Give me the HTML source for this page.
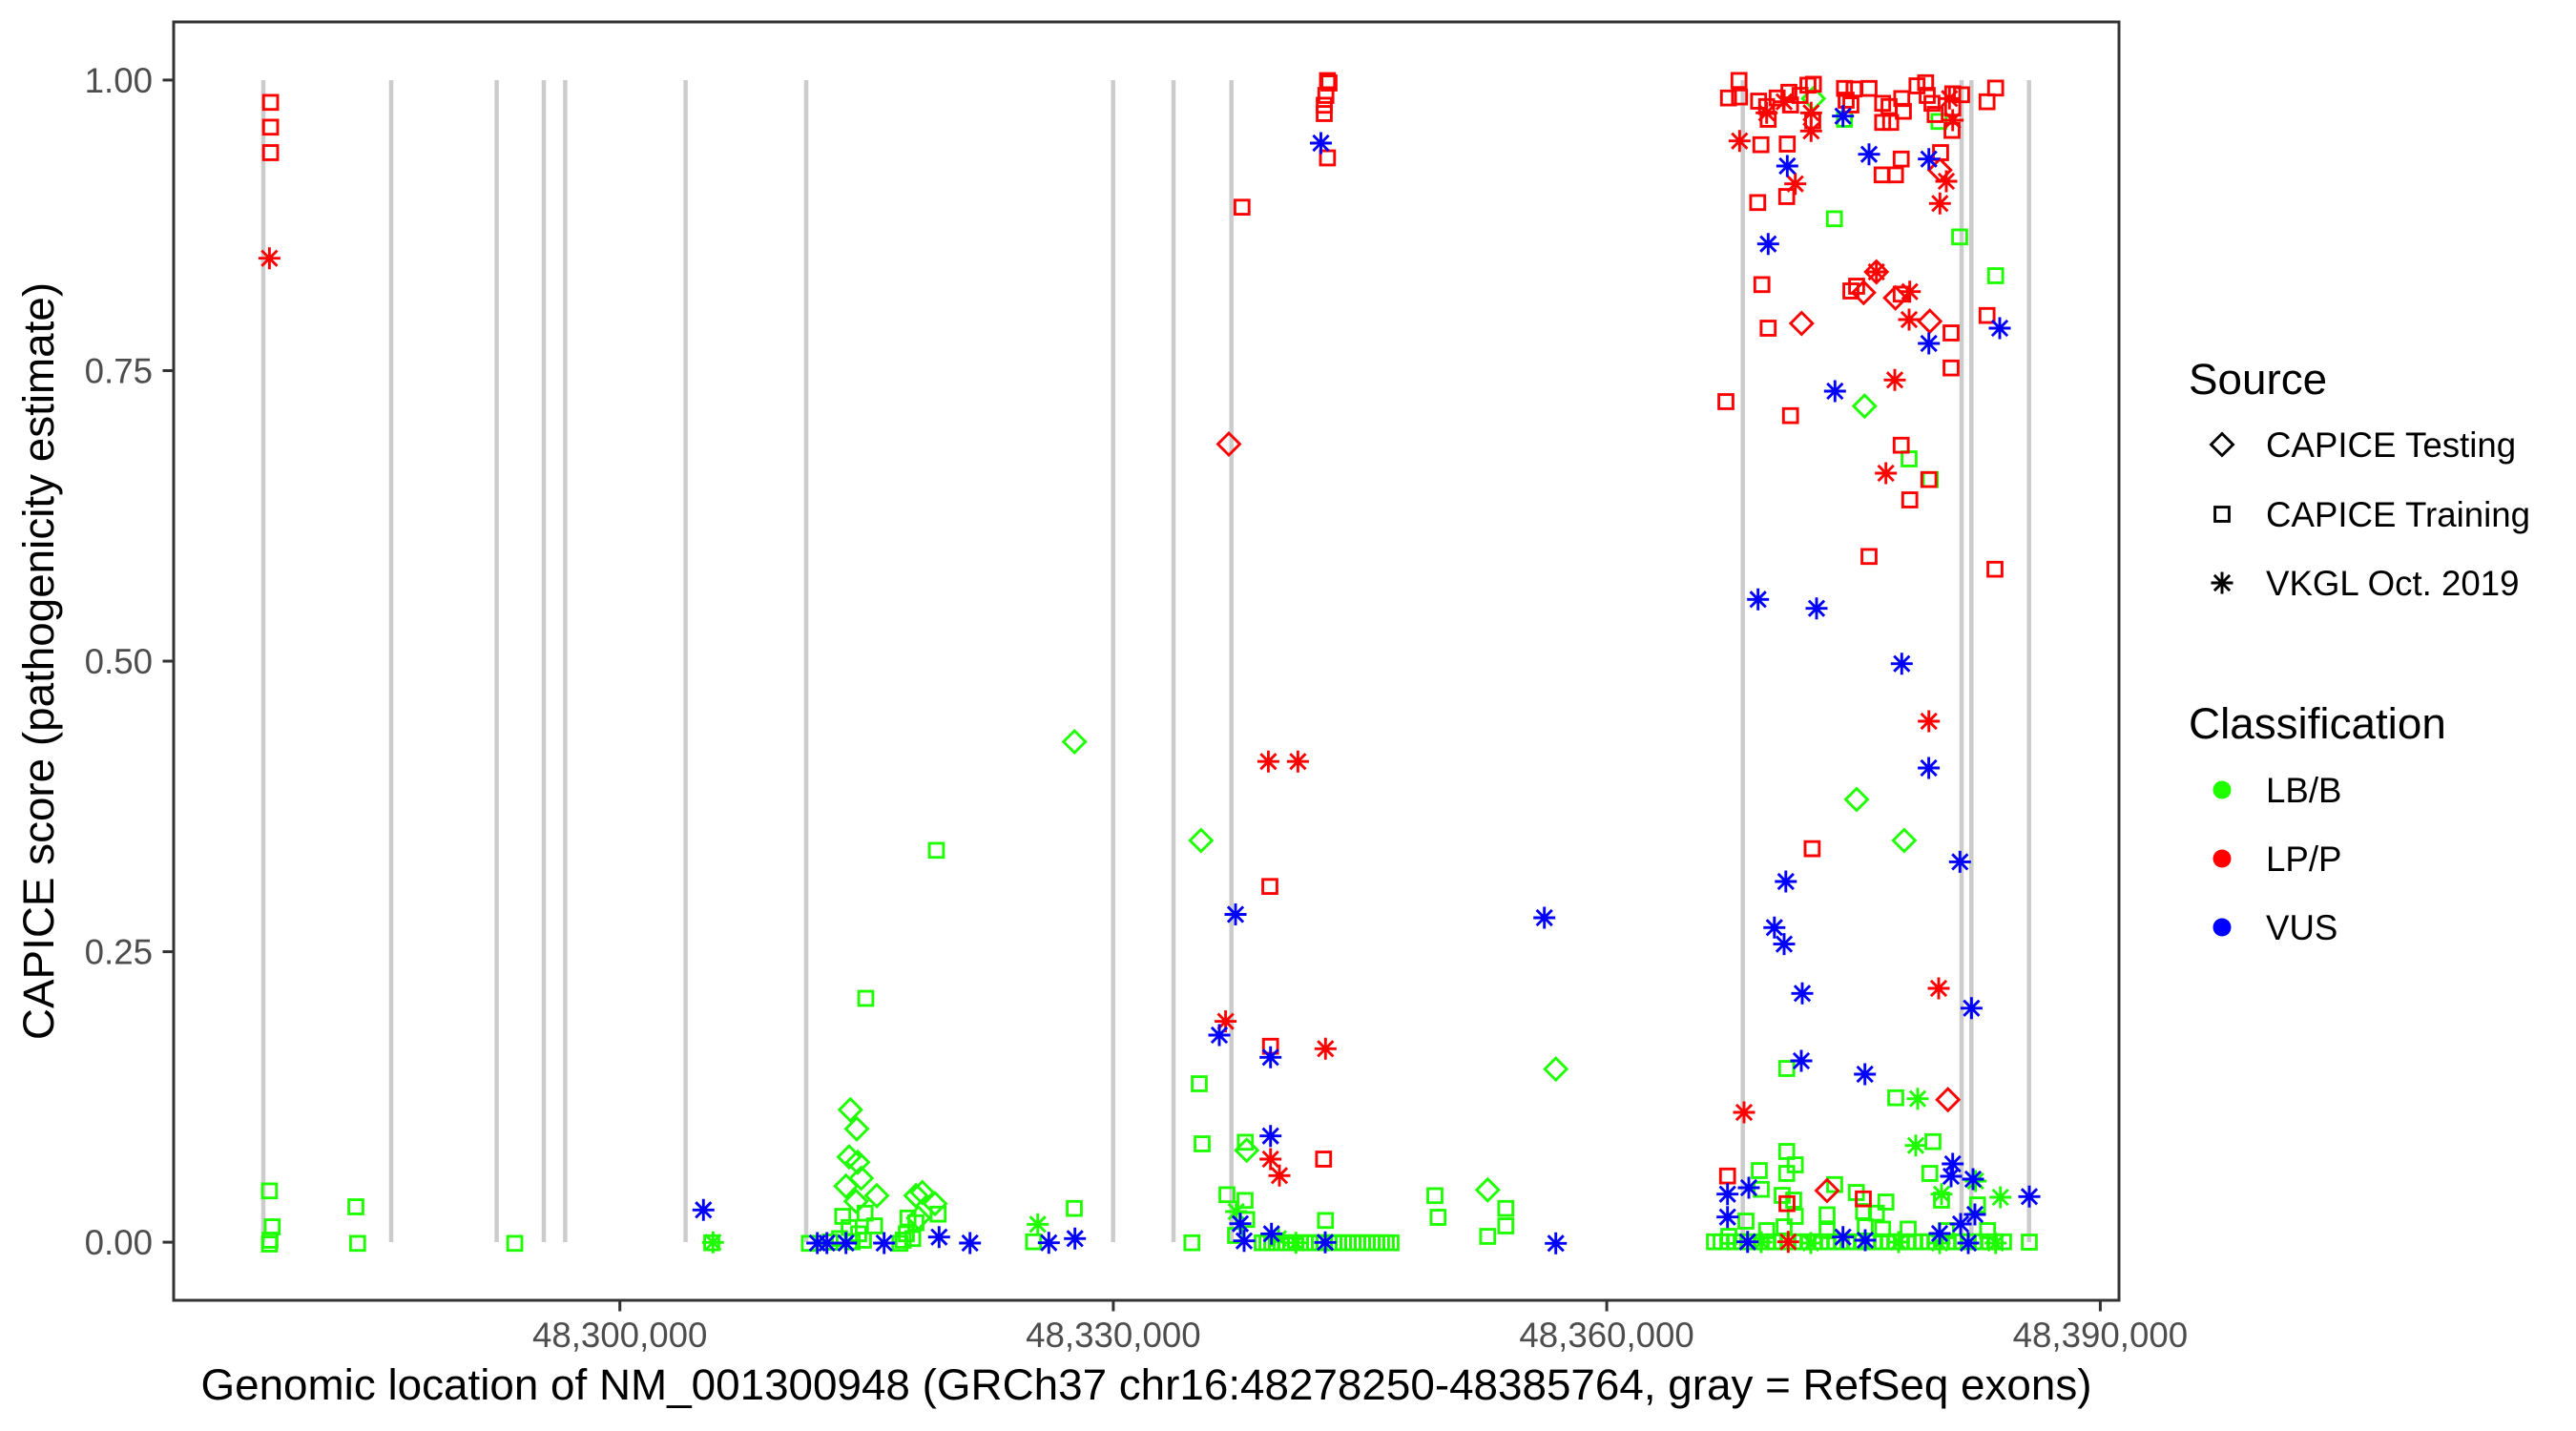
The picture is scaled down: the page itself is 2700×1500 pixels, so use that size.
<!DOCTYPE html>
<html><head><meta charset="utf-8"><style>
html,body{margin:0;padding:0;background:#fff}
svg{display:block}
text{font-family:"Liberation Sans",Arial,sans-serif}
</style></head><body>
<svg width="2700" height="1500" viewBox="0 0 2700 1500" xmlns="http://www.w3.org/2000/svg">
<defs>
<path id="q" d="M-7.4,-7.4h14.8v14.8h-14.8z" fill="none"/>
<path id="d" d="M0,-11.5L11.5,0L0,11.5L-11.5,0z" fill="none"/>
<path id="a" d="M-11.5,0H11.5M0,-11.5V11.5M-8.1,-8.1L8.1,8.1M-8.1,8.1L8.1,-8.1" fill="none"/>
</defs>
<rect width="2700" height="1500" fill="#fff"/>
<g stroke="#cccccc" stroke-width="4.5">
<line x1="276" y1="84" x2="276" y2="1302"/>
<line x1="410" y1="84" x2="410" y2="1302"/>
<line x1="520.6" y1="84" x2="520.6" y2="1302"/>
<line x1="570" y1="84" x2="570" y2="1302"/>
<line x1="592.4" y1="84" x2="592.4" y2="1302"/>
<line x1="718.6" y1="84" x2="718.6" y2="1302"/>
<line x1="845" y1="84" x2="845" y2="1302"/>
<line x1="1166.7" y1="84" x2="1166.7" y2="1302"/>
<line x1="1230" y1="84" x2="1230" y2="1302"/>
<line x1="1290.7" y1="84" x2="1290.7" y2="1302"/>
<line x1="1826.7" y1="84" x2="1826.7" y2="1302"/>
<line x1="2056" y1="84" x2="2056" y2="1302"/>
<line x1="2066.3" y1="84" x2="2066.3" y2="1302"/>
<line x1="2126.7" y1="84" x2="2126.7" y2="1302"/>
</g>
<g stroke="#1eff00" stroke-width="2.9" fill="none">
<use href="#q" x="282.4" y="1248.3"/><use href="#q" x="285.3" y="1286"/><use href="#q" x="283" y="1300"/><use href="#q" x="282.4" y="1304"/>
<use href="#q" x="373" y="1265"/><use href="#q" x="374.8" y="1303.3"/><use href="#q" x="539.6" y="1303.3"/><use href="#q" x="746" y="1302.7"/><use href="#q" x="848.3" y="1303.3"/>
<use href="#q" x="883.3" y="1275"/><use href="#q" x="906.7" y="1271.7"/><use href="#q" x="916.7" y="1285"/><use href="#q" x="890" y="1286.7"/><use href="#q" x="900" y="1293.3"/><use href="#q" x="880" y="1298.3"/><use href="#q" x="893.3" y="1301.7"/><use href="#q" x="905" y="1300"/><use href="#q" x="870" y="1302"/>
<use href="#q" x="951.7" y="1276.7"/><use href="#q" x="960" y="1281.7"/><use href="#q" x="983.3" y="1272.7"/><use href="#q" x="950" y="1293.3"/><use href="#q" x="956.7" y="1298.3"/><use href="#q" x="946.7" y="1300"/><use href="#q" x="943.3" y="1303.3"/>
<use href="#q" x="1083.3" y="1301.7"/><use href="#q" x="1126" y="1266.7"/><use href="#q" x="907.5" y="1046.5"/><use href="#q" x="981.5" y="891.3"/>
<use href="#q" x="1257" y="1136"/><use href="#q" x="1260" y="1199"/><use href="#q" x="1305.3" y="1197.3"/><use href="#q" x="1286" y="1252.3"/><use href="#q" x="1305" y="1258.3"/><use href="#q" x="1306.7" y="1278.3"/><use href="#q" x="1295" y="1295"/><use href="#q" x="1249.3" y="1302.7"/><use href="#q" x="1389.3" y="1279.3"/>
<use href="#q" x="1323" y="1302.7"/><use href="#q" x="1328" y="1302.7"/><use href="#q" x="1333" y="1302.7"/><use href="#q" x="1338" y="1302.7"/><use href="#q" x="1343" y="1302.7"/><use href="#q" x="1348" y="1302.7"/><use href="#q" x="1353" y="1302.7"/><use href="#q" x="1358" y="1302.7"/><use href="#q" x="1363" y="1302.7"/><use href="#q" x="1368" y="1302.7"/><use href="#q" x="1373" y="1302.7"/><use href="#q" x="1378" y="1302.7"/><use href="#q" x="1383" y="1302.7"/><use href="#q" x="1388" y="1302.7"/><use href="#q" x="1393" y="1302.7"/><use href="#q" x="1398" y="1302.7"/><use href="#q" x="1403" y="1302.7"/><use href="#q" x="1408" y="1302.7"/><use href="#q" x="1413" y="1302.7"/><use href="#q" x="1418" y="1302.7"/><use href="#q" x="1423" y="1302.7"/><use href="#q" x="1428" y="1302.7"/><use href="#q" x="1433" y="1302.7"/><use href="#q" x="1438" y="1302.7"/><use href="#q" x="1443" y="1302.7"/><use href="#q" x="1448" y="1302.7"/><use href="#q" x="1453" y="1302.7"/><use href="#q" x="1458" y="1302.7"/>
<use href="#q" x="1504" y="1253.3"/><use href="#q" x="1507.3" y="1276"/><use href="#q" x="1559.3" y="1296"/><use href="#q" x="1578.3" y="1266.7"/><use href="#q" x="1578.3" y="1285"/>
<use href="#q" x="1872.7" y="1120"/><use href="#q" x="1987" y="1150.7"/><use href="#q" x="2026" y="1196.7"/><use href="#q" x="1872.7" y="1207"/><use href="#q" x="1881.7" y="1221"/><use href="#q" x="1872.7" y="1230"/><use href="#q" x="1844" y="1227"/><use href="#q" x="1846" y="1246.7"/><use href="#q" x="2022.7" y="1230"/><use href="#q" x="1923" y="1241.7"/><use href="#q" x="1945.7" y="1250"/><use href="#q" x="1976.7" y="1260"/><use href="#q" x="1868" y="1253"/><use href="#q" x="1880" y="1258"/><use href="#q" x="2035" y="1258"/><use href="#q" x="2072.7" y="1263"/>
<use href="#q" x="1830" y="1280"/><use href="#q" x="1851.7" y="1290"/><use href="#q" x="1915" y="1273.3"/><use href="#q" x="1953.3" y="1270"/><use href="#q" x="1966.7" y="1271.7"/><use href="#q" x="1881.7" y="1275"/><use href="#q" x="2000" y="1288.3"/><use href="#q" x="2083.3" y="1290"/><use href="#q" x="1973.3" y="1288.3"/><use href="#q" x="1870" y="1286"/><use href="#q" x="1812" y="1296"/><use href="#q" x="1955" y="1286"/><use href="#q" x="1915" y="1290"/><use href="#q" x="2040" y="1290"/>
<use href="#q" x="1797" y="1301.7"/><use href="#q" x="1804" y="1301.7"/><use href="#q" x="1811" y="1301.7"/><use href="#q" x="1818" y="1301.7"/><use href="#q" x="1825" y="1301.7"/><use href="#q" x="1832" y="1301.7"/><use href="#q" x="1839" y="1301.7"/><use href="#q" x="1846" y="1301.7"/><use href="#q" x="1853" y="1301.7"/><use href="#q" x="1860" y="1301.7"/><use href="#q" x="1867" y="1301.7"/><use href="#q" x="1874" y="1301.7"/><use href="#q" x="1881" y="1301.7"/><use href="#q" x="1888" y="1301.7"/><use href="#q" x="1895" y="1301.7"/><use href="#q" x="1902" y="1301.7"/><use href="#q" x="1909" y="1301.7"/><use href="#q" x="1916" y="1301.7"/><use href="#q" x="1923" y="1301.7"/><use href="#q" x="1930" y="1301.7"/><use href="#q" x="1937" y="1301.7"/><use href="#q" x="1944" y="1301.7"/><use href="#q" x="1951" y="1301.7"/><use href="#q" x="1958" y="1301.7"/><use href="#q" x="1965" y="1301.7"/><use href="#q" x="1972" y="1301.7"/><use href="#q" x="1979" y="1301.7"/><use href="#q" x="1986" y="1301.7"/><use href="#q" x="1993" y="1301.7"/><use href="#q" x="2000" y="1301.7"/><use href="#q" x="2007" y="1301.7"/><use href="#q" x="2014" y="1301.7"/><use href="#q" x="2021" y="1301.7"/><use href="#q" x="2028" y="1301.7"/><use href="#q" x="2035" y="1301.7"/><use href="#q" x="2042" y="1301.7"/><use href="#q" x="2049" y="1301.7"/><use href="#q" x="2056" y="1301.7"/><use href="#q" x="2063" y="1301.7"/><use href="#q" x="2070" y="1301.7"/><use href="#q" x="2077" y="1301.7"/><use href="#q" x="2084" y="1301.7"/><use href="#q" x="2091" y="1301.7"/><use href="#q" x="2100" y="1301.7"/>
<use href="#q" x="2127" y="1302"/>
<use href="#q" x="2001" y="481"/><use href="#q" x="2023.3" y="502.7"/><use href="#q" x="2091.7" y="289"/><use href="#q" x="2054" y="248.3"/><use href="#q" x="1922.7" y="229.3"/><use href="#q" x="2032.3" y="127.3"/><use href="#q" x="1933.3" y="125"/>
<use href="#d" x="1126.2" y="777.5"/><use href="#d" x="1258.8" y="881"/><use href="#d" x="891.3" y="1163.3"/><use href="#d" x="898" y="1183.3"/><use href="#d" x="890" y="1212.7"/><use href="#d" x="899" y="1218.3"/><use href="#d" x="902.7" y="1235"/><use href="#d" x="886.7" y="1243.3"/><use href="#d" x="897.3" y="1259.3"/><use href="#d" x="919" y="1253.3"/><use href="#d" x="960" y="1253.3"/><use href="#d" x="966.7" y="1250"/><use href="#d" x="980" y="1261.7"/><use href="#d" x="962.7" y="1276.7"/><use href="#d" x="1306.7" y="1205.7"/><use href="#d" x="1559.3" y="1247.3"/><use href="#d" x="1630.7" y="1120.6"/><use href="#d" x="1954.3" y="425.7"/><use href="#d" x="1946" y="838"/><use href="#d" x="1995.8" y="881"/><use href="#d" x="1900.7" y="103.3"/>
<use href="#a" x="747.3" y="1302.3"/><use href="#a" x="1087.7" y="1283.3"/><use href="#a" x="1295.7" y="1270"/><use href="#a" x="1340" y="1298.3"/><use href="#a" x="1358.3" y="1302.7"/><use href="#a" x="2010" y="1151.7"/><use href="#a" x="2008" y="1200.7"/><use href="#a" x="2070.7" y="1238"/><use href="#a" x="2035" y="1251.7"/><use href="#a" x="2096.7" y="1255"/><use href="#a" x="2033" y="1303"/><use href="#a" x="2091.7" y="1303"/><use href="#a" x="1898" y="1303"/><use href="#a" x="1990" y="1302"/><use href="#a" x="1846" y="1302"/>
</g>
<g stroke="#ff0000" stroke-width="2.9" fill="none">
<use href="#q" x="283.6" y="107.3"/><use href="#q" x="283.6" y="133.3"/><use href="#q" x="283.6" y="160"/>
<use href="#q" x="1391.4" y="84.5"/><use href="#q" x="1393" y="87"/><use href="#q" x="1389.7" y="100"/><use href="#q" x="1388" y="110.3"/><use href="#q" x="1388" y="119"/><use href="#q" x="1391.4" y="165.5"/><use href="#q" x="1301.8" y="217.2"/><use href="#q" x="1331" y="929.2"/><use href="#q" x="1331.7" y="1096.7"/><use href="#q" x="1387.3" y="1215"/>
<use href="#q" x="1822.7" y="84.3"/><use href="#q" x="1811.7" y="102.7"/><use href="#q" x="1823.3" y="101.7"/><use href="#q" x="1843.3" y="106"/><use href="#q" x="1853.3" y="125"/><use href="#q" x="1851.7" y="111.7"/><use href="#q" x="1862.7" y="102.7"/><use href="#q" x="1875" y="96.7"/><use href="#q" x="1876.7" y="110"/><use href="#q" x="1886.7" y="100"/><use href="#q" x="1895" y="89.3"/><use href="#q" x="1900.7" y="88.3"/><use href="#q" x="1900" y="126.7"/><use href="#q" x="1933.3" y="92.7"/><use href="#q" x="1943.3" y="93.3"/><use href="#q" x="1935" y="105"/><use href="#q" x="1940" y="110"/><use href="#q" x="1959" y="92.7"/><use href="#q" x="1973.3" y="108.3"/><use href="#q" x="1980" y="111.7"/><use href="#q" x="1973.3" y="128.3"/><use href="#q" x="1981.7" y="128.3"/><use href="#q" x="1993.3" y="103.3"/><use href="#q" x="1995" y="116.7"/><use href="#q" x="2009.3" y="90"/><use href="#q" x="2018.3" y="86.7"/><use href="#q" x="2020" y="100"/><use href="#q" x="2025" y="108.3"/><use href="#q" x="2028.3" y="120"/><use href="#q" x="2046.7" y="98.3"/><use href="#q" x="2046.7" y="113.3"/><use href="#q" x="2046" y="136.7"/><use href="#q" x="2056" y="99.3"/><use href="#q" x="2082.7" y="106.7"/><use href="#q" x="2091.7" y="92.3"/>
<use href="#q" x="1845.7" y="151.7"/><use href="#q" x="1873.3" y="151"/><use href="#q" x="1992.7" y="166.7"/><use href="#q" x="1972.7" y="183.3"/><use href="#q" x="1986.7" y="183.3"/><use href="#q" x="2034" y="160"/><use href="#q" x="1842.3" y="212.3"/><use href="#q" x="1872.7" y="206"/>
<use href="#q" x="1846.7" y="298.3"/><use href="#q" x="1853.3" y="344"/><use href="#q" x="1809" y="421"/><use href="#q" x="1876.7" y="435.7"/><use href="#q" x="1940" y="305"/><use href="#q" x="1946" y="300"/><use href="#q" x="1992.7" y="308.3"/><use href="#q" x="2045" y="349"/><use href="#q" x="2045" y="385.7"/><use href="#q" x="2082.7" y="330.7"/><use href="#q" x="1992.7" y="466.7"/><use href="#q" x="2021.7" y="502.7"/><use href="#q" x="2001.7" y="524"/><use href="#q" x="1959" y="583.3"/><use href="#q" x="2091" y="596.7"/><use href="#q" x="1899.4" y="889.6"/><use href="#q" x="1810.7" y="1232.7"/><use href="#q" x="1953" y="1256.7"/><use href="#q" x="1873" y="1261.7"/>
<use href="#d" x="1288" y="465.5"/><use href="#d" x="2033.3" y="178.3"/><use href="#d" x="1888.3" y="339"/><use href="#d" x="1953.3" y="306.7"/><use href="#d" x="1966.7" y="285"/><use href="#d" x="1986.7" y="312.3"/><use href="#d" x="2022.7" y="336.7"/><use href="#d" x="1915" y="1248"/><use href="#d" x="2041.7" y="1152.7"/>
<use href="#a" x="282.4" y="270.7"/><use href="#a" x="1284.6" y="1070.6"/><use href="#a" x="1329.4" y="798.2"/><use href="#a" x="1360.4" y="798.2"/><use href="#a" x="1389.3" y="1099.3"/><use href="#a" x="1331.7" y="1215"/><use href="#a" x="1341" y="1232.3"/>
<use href="#a" x="1823.3" y="147.7"/><use href="#a" x="1898.3" y="137.3"/><use href="#a" x="1881.7" y="192.7"/><use href="#a" x="2040" y="190"/><use href="#a" x="2033.3" y="213.3"/><use href="#a" x="1851.7" y="118.3"/><use href="#a" x="1898.3" y="118.3"/><use href="#a" x="2046.7" y="126"/><use href="#a" x="1870" y="106.7"/><use href="#a" x="2043.3" y="103.3"/><use href="#a" x="1966.7" y="285"/><use href="#a" x="2001.7" y="305.7"/><use href="#a" x="2001" y="335"/><use href="#a" x="1986" y="398.3"/><use href="#a" x="1976.7" y="496"/><use href="#a" x="2021.7" y="756"/><use href="#a" x="2032" y="1036"/><use href="#a" x="1828" y="1166"/><use href="#a" x="1874.3" y="1301.7"/>
</g>
<g stroke="#0000ff" stroke-width="2.9" fill="none">
<use href="#a" x="737.3" y="1268.3"/><use href="#a" x="856.7" y="1303"/><use href="#a" x="866.7" y="1303"/><use href="#a" x="886.7" y="1303"/><use href="#a" x="926.7" y="1303"/><use href="#a" x="984.3" y="1296.7"/><use href="#a" x="1016.7" y="1303"/><use href="#a" x="1099.3" y="1302.7"/><use href="#a" x="1126.7" y="1298.3"/>
<use href="#a" x="1278" y="1085"/><use href="#a" x="1295" y="958.5"/><use href="#a" x="1331.7" y="1108.3"/><use href="#a" x="1331.7" y="1190.7"/><use href="#a" x="1300" y="1282.7"/><use href="#a" x="1304" y="1300.7"/><use href="#a" x="1332.7" y="1293.3"/><use href="#a" x="1389" y="1302.3"/><use href="#a" x="1384.5" y="150"/><use href="#a" x="1618.7" y="962"/><use href="#a" x="1630.7" y="1303.3"/>
<use href="#a" x="1931.7" y="121.7"/><use href="#a" x="1959" y="161.7"/><use href="#a" x="2021.7" y="166.7"/><use href="#a" x="1873.3" y="174"/><use href="#a" x="1853.3" y="255.7"/><use href="#a" x="1923.3" y="410"/><use href="#a" x="2021.7" y="360"/><use href="#a" x="2096" y="344"/><use href="#a" x="1842.7" y="628.3"/><use href="#a" x="1904" y="637.7"/><use href="#a" x="1993.3" y="695.7"/><use href="#a" x="2021.6" y="805"/><use href="#a" x="2054.3" y="903.4"/><use href="#a" x="1871.8" y="924"/><use href="#a" x="1859.8" y="972.3"/><use href="#a" x="1870" y="989.6"/><use href="#a" x="1889" y="1041.3"/><use href="#a" x="2066.4" y="1056.8"/><use href="#a" x="1888" y="1112"/><use href="#a" x="1954.7" y="1126"/>
<use href="#a" x="1810.7" y="1251.7"/><use href="#a" x="1833" y="1245"/><use href="#a" x="1810.7" y="1275.7"/><use href="#a" x="2046.7" y="1220"/><use href="#a" x="2045" y="1233"/><use href="#a" x="2068" y="1236"/><use href="#a" x="2127" y="1254.3"/><use href="#a" x="2070" y="1273"/><use href="#a" x="2055" y="1283"/><use href="#a" x="1831.7" y="1301.7"/><use href="#a" x="1931.7" y="1296.7"/><use href="#a" x="1955" y="1300"/><use href="#a" x="2033" y="1293"/><use href="#a" x="2063" y="1303"/>
</g>
<rect x="182" y="23" width="2039" height="1340" fill="none" stroke="#333333" stroke-width="3"/>
<g stroke="#333333" stroke-width="3">
<line x1="170.5" y1="83.9" x2="182" y2="83.9"/>
<line x1="170.5" y1="388.5" x2="182" y2="388.5"/>
<line x1="170.5" y1="693" x2="182" y2="693"/>
<line x1="170.5" y1="997.6" x2="182" y2="997.6"/>
<line x1="170.5" y1="1302.1" x2="182" y2="1302.1"/>
<line x1="649.7" y1="1363" x2="649.7" y2="1374.5"/>
<line x1="1166.9" y1="1363" x2="1166.9" y2="1374.5"/>
<line x1="1684.1" y1="1363" x2="1684.1" y2="1374.5"/>
<line x1="2201.4" y1="1363" x2="2201.4" y2="1374.5"/>
</g>
<g fill="#4d4d4d" font-size="36.67" text-anchor="end">
<text x="160" y="97">1.00</text>
<text x="160" y="401.6">0.75</text>
<text x="160" y="706.1">0.50</text>
<text x="160" y="1010.7">0.25</text>
<text x="160" y="1315.2">0.00</text>
</g>
<g fill="#4d4d4d" font-size="36.67" text-anchor="middle">
<text x="649.7" y="1412">48,300,000</text>
<text x="1166.9" y="1412">48,330,000</text>
<text x="1684.1" y="1412">48,360,000</text>
<text x="2201.4" y="1412">48,390,000</text>
</g>
<text x="1201.5" y="1467" font-size="45.8" text-anchor="middle" fill="#000">Genomic location of NM_001300948 (GRCh37 chr16:48278250-48385764, gray = RefSeq exons)</text>
<text transform="translate(56,693) rotate(-90)" font-size="45.8" text-anchor="middle" fill="#000">CAPICE score (pathogenicity estimate)</text>
<text x="2294" y="413" font-size="45.8" fill="#000">Source</text>
<g stroke="#000" stroke-width="2.9" fill="none">
<use href="#d" x="2329" y="466"/>
<use href="#q" x="2329" y="539"/>
<use href="#a" x="2329" y="611"/>
</g>
<g font-size="36.67" fill="#000">
<text x="2375" y="479">CAPICE Testing</text>
<text x="2375" y="552">CAPICE Training</text>
<text x="2375" y="624">VKGL Oct. 2019</text>
</g>
<text x="2294" y="774" font-size="45.8" fill="#000">Classification</text>
<circle cx="2329" cy="828" r="9.5" fill="#1eff00"/>
<circle cx="2329" cy="900" r="9.5" fill="#ff0000"/>
<circle cx="2329" cy="972" r="9.5" fill="#0000ff"/>
<g font-size="36.67" fill="#000">
<text x="2375" y="841">LB/B</text>
<text x="2375" y="913">LP/P</text>
<text x="2375" y="985">VUS</text>
</g>
</svg>
</body></html>
